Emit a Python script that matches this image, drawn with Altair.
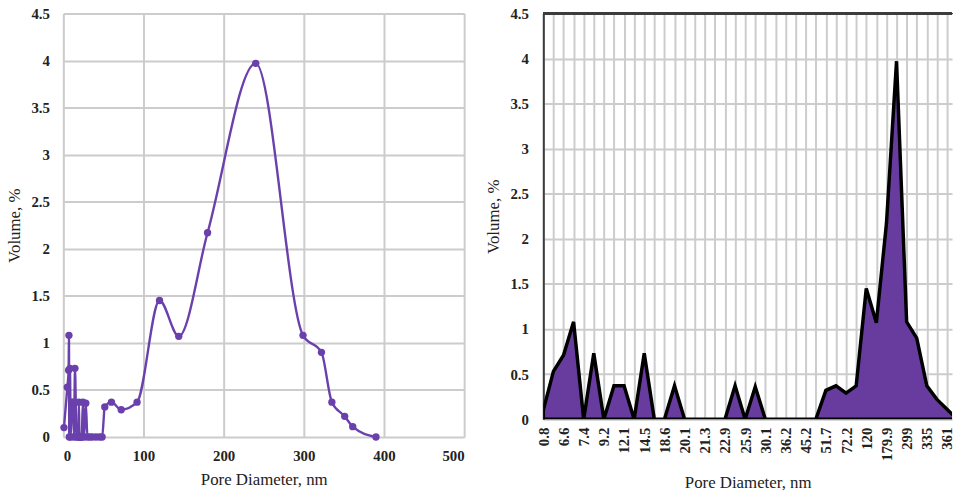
import json
import altair as alt
import pandas as pd

# ---- data ----
diam_nm = [0.8, 5.0, 6.6, 7.0, 7.4, 8.3, 9.2, 10.6, 12.1, 13.3, 14.5, 16.5, 18.6, 19.4,
           20.1, 20.7, 21.3, 22.1, 22.9, 24.4, 25.9, 28.0, 30.1, 33.1, 36.2, 40.7, 45.2,
           48.4, 51.7, 60.0, 72.2, 92.0, 120.0, 144.0, 179.9, 240.0, 299.0, 322.0, 335.0,
           351.0, 361.0, 390.0]
volume_pct = [0.10, 0.53, 0.71, 1.08, 0.0, 0.73, 0.0, 0.37, 0.37, 0.0, 0.73, 0.0, 0.0, 0.37,
              0.0, 0.0, 0.0, 0.0, 0.0, 0.37, 0.0, 0.36, 0.0, 0.0, 0.0, 0.0, 0.0,
              0.0, 0.32, 0.37, 0.29, 0.37, 1.45, 1.07, 2.17, 3.97, 1.08, 0.90, 0.37,
              0.22, 0.11, 0.0]
right_tick_labels = ["0.8", "6.6", "7.4", "9.2", "12.1", "14.5", "18.6", "20.1", "21.3",
                     "22.9", "25.9", "30.1", "36.2", "45.2", "51.7", "72.2", "120", "179.9",
                     "299", "335", "361"]
left_x_ticks = [0, 100, 200, 300, 400, 500]
y_ticks = [0, 0.5, 1, 1.5, 2, 2.5, 3, 3.5, 4, 4.5]

df = pd.DataFrame({"diam": diam_nm, "vol": volume_pct, "idx": list(range(len(diam_nm)))})

LINE = "#6a40ac"
FILL = "#683c9f"
GRID = "#cccccc"
BORDER = "#3c3c3c"
FONT = "Liberation Serif"

tick_kw = dict(labelFont=FONT, labelFontSize=15, labelFontWeight="bold", labelColor="#222222",
               titleFont=FONT, titleFontSize=17, titleFontWeight="normal", titleColor="#222222",
               ticks=False, gridColor=GRID, gridWidth=2)

# ---- left chart ----
lx = alt.X("diam:Q", scale=alt.Scale(domain=[0, 500], nice=False),
           axis=alt.Axis(values=left_x_ticks, format="d", title="Pore Diameter, nm",
                         domain=False, labelPadding=12, titlePadding=8, **tick_kw))
ly = alt.Y("vol:Q", scale=alt.Scale(domain=[0, 4.5], nice=False),
           axis=alt.Axis(values=y_ticks, format="~g", title="Volume, %", domain=False,
                         labelPadding=14, titlePadding=8, **tick_kw))
lbase = alt.Chart(df).encode(x=lx, y=ly)
left = (
    lbase.mark_line(interpolate="monotone", color=LINE, strokeWidth=2.4)
    + lbase.mark_circle(size=55, color=LINE, opacity=1)
).properties(width=405, height=428)

# ---- right chart ----
label_expr = ("datum.value % 2 == 0 ? " + json.dumps(right_tick_labels).replace('"', "'")
              + "[datum.value / 2] : ''")
rx = alt.X("idx:Q", scale=alt.Scale(domain=[0, 40.5], nice=False, zero=False),
           axis=alt.Axis(values=list(range(41)), labelExpr=label_expr, labelAngle=270,
                         title="Pore Diameter, nm", domain=False, labelPadding=8,
                         titlePadding=14, **tick_kw))
ry = alt.Y("vol:Q", scale=alt.Scale(domain=[0, 4.5], nice=False),
           axis=alt.Axis(values=y_ticks, format="~g", title="Volume, %", domain=True,
                         domainColor=BORDER, domainWidth=2, labelPadding=15,
                         titlePadding=8, **tick_kw))
area = alt.Chart(df).mark_area(
    color=FILL, stroke="black", strokeWidth=3.5, strokeJoin="miter", clip=True,
    line=False, opacity=1
).encode(x=rx, y=ry)
top_rule = alt.Chart(df).mark_rule(color=BORDER, strokeWidth=2).encode(
    y=alt.datum(4.5), x=alt.value(0), x2=alt.value(413)
)
right = (area + top_rule).properties(width=413, height=410,
                                     view=alt.ViewBackground(stroke="transparent"))

chart = alt.hconcat(left, right, spacing=18).properties(
    padding={"left": 4, "top": 3, "right": 0, "bottom": 0}
).configure_view(stroke=BORDER, strokeWidth=2).configure(background="white")

chart.save("out.html", embed_options={"renderer": "svg", "actions": False})
